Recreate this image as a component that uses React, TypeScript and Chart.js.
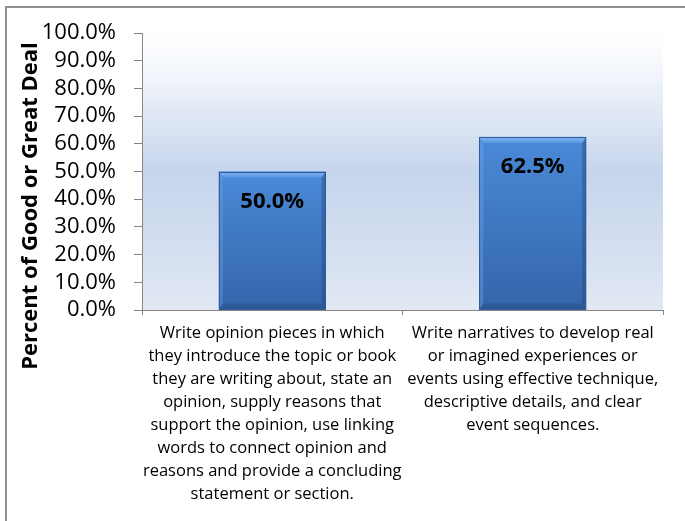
import React, { useEffect, useRef } from "react";
import { Chart, registerables } from "chart.js";

Chart.register(...registerables);

const categories: string[][] = [
  [
    "Write opinion pieces in which",
    "they introduce the topic or book",
    "they are writing about, state an",
    "opinion, supply reasons that",
    "support the opinion, use linking",
    "words to connect opinion and",
    "reasons and provide a concluding",
    "statement or section.",
  ],
  [
    "Write narratives to develop real",
    "or imagined experiences or",
    "events using effective technique,",
    "descriptive details, and clear",
    "event sequences.",
  ],
];
const values: number[] = [50.0, 62.5];
const yMin = 0;
const yMax = 100;
const yStep = 10;
const yTitle = "Percent of Good or Great Deal";

const FONT = "'Open Sans', 'DejaVu Sans', sans-serif";

const decorPlugin = {
  id: "decor",
  beforeDraw(chart: any) {
    const { ctx, chartArea } = chart;
    ctx.save();
    ctx.fillStyle = "#ffffff";
    ctx.fillRect(0, 0, chart.width, chart.height);
    // outer frame
    ctx.strokeStyle = "#8f8f8f";
    ctx.lineWidth = 2;
    ctx.beginPath();
    ctx.moveTo(6, chart.height);
    ctx.lineTo(6, 7);
    ctx.lineTo(chart.width, 7);
    ctx.stroke();
    // plot area gradient
    const g = ctx.createLinearGradient(0, chartArea.top, 0, chartArea.bottom);
    g.addColorStop(0, "#ffffff");
    g.addColorStop(0.15, "#f2f5fb");
    g.addColorStop(0.5, "#c6d5ec");
    g.addColorStop(0.8, "#d5dff0");
    g.addColorStop(1, "#e2e9f5");
    ctx.fillStyle = g;
    ctx.fillRect(chartArea.left, chartArea.top, chartArea.right - chartArea.left, chartArea.bottom - chartArea.top);
    // y title
    ctx.fillStyle = "#000000";
    ctx.font = `bold 22px ${FONT}`;
    ctx.textAlign = "center";
    ctx.textBaseline = "middle";
    ctx.translate(31, 206);
    ctx.rotate(-Math.PI / 2);
    ctx.fillText(yTitle, 0, 0);
    ctx.restore();
  },
  afterDatasetsDraw(chart: any) {
    const { ctx } = chart;
    const meta = chart.getDatasetMeta(0);
    ctx.save();
    meta.data.forEach((bar: any, i: number) => {
      const w = bar.width;
      const l = bar.x - w / 2;
      const r = bar.x + w / 2;
      const t = bar.y;
      const b = bar.base;
      // body
      const g = ctx.createLinearGradient(0, t, 0, b);
      g.addColorStop(0, "#4a8ad8");
      g.addColorStop(1, "#3465aa");
      ctx.fillStyle = g;
      ctx.fillRect(l, t, w, b - t);
      const bv = 6;
      const sv = 4;
      // top bevel
      const gt = ctx.createLinearGradient(0, t, 0, t + bv);
      gt.addColorStop(0, "#82b6f2");
      gt.addColorStop(1, "#5b97e0");
      ctx.fillStyle = gt;
      ctx.beginPath();
      ctx.moveTo(l, t);
      ctx.lineTo(r, t);
      ctx.lineTo(r - sv, t + bv);
      ctx.lineTo(l + sv, t + bv);
      ctx.closePath();
      ctx.fill();
      // left bevel
      ctx.fillStyle = "rgba(120,170,235,0.35)";
      ctx.beginPath();
      ctx.moveTo(l, t);
      ctx.lineTo(l + sv, t + bv);
      ctx.lineTo(l + sv, b - bv);
      ctx.lineTo(l, b);
      ctx.closePath();
      ctx.fill();
      // right bevel
      ctx.fillStyle = "rgba(25,60,110,0.35)";
      ctx.beginPath();
      ctx.moveTo(r, t);
      ctx.lineTo(r - sv, t + bv);
      ctx.lineTo(r - sv, b - bv);
      ctx.lineTo(r, b);
      ctx.closePath();
      ctx.fill();
      // bottom bevel
      ctx.fillStyle = "rgba(25,55,100,0.25)";
      ctx.beginPath();
      ctx.moveTo(l, b);
      ctx.lineTo(l + sv, b - bv);
      ctx.lineTo(r - sv, b - bv);
      ctx.lineTo(r, b);
      ctx.closePath();
      ctx.fill();
      // outline
      ctx.strokeStyle = "#2f5c98";
      ctx.lineWidth = 1;
      ctx.strokeRect(Math.round(l) + 0.5, Math.round(t) + 0.5, Math.round(w) - 1, Math.round(b - t) - 1);
      // label
      ctx.fillStyle = "#000000";
      ctx.font = `bold 22px ${FONT}`;
      ctx.textAlign = "center";
      ctx.textBaseline = "middle";
      ctx.fillText(values[i].toFixed(1) + "%", bar.x, t + 30);
    });
    ctx.restore();
  },
};

export default function App() {
  const ref = useRef<HTMLCanvasElement | null>(null);
  useEffect(() => {
    if (!ref.current) return;
    const chart = new Chart(ref.current, {
      type: "bar",
      data: {
        labels: categories,
        datasets: [
          {
            data: values,
            backgroundColor: "#3b74c0",
            borderWidth: 0,
            barPercentage: 0.82,
            categoryPercentage: 0.5,
          },
        ],
      },
      options: {
        animation: false,
        responsive: false,
        events: [],
        layout: { padding: { left: 42, right: 22, top: 33, bottom: 0 } },
        plugins: { legend: { display: false }, tooltip: { enabled: false }, title: { display: false } },
        scales: {
          x: {
            offset: true,
            grid: { display: true, drawOnChartArea: false, drawTicks: true, tickLength: 5, color: "#868686" },
            border: { display: true, color: "#868686", width: 1 },
            ticks: {
              autoSkip: false,
              maxRotation: 0,
              minRotation: 0,
              padding: 7,
              color: "#000000",
              font: { family: FONT, size: 16.5, lineHeight: 1.39 },
            },
            afterFit: (s: any) => {
              s.height = 211;
            },
          },
          y: {
            min: yMin,
            max: yMax,
            grid: { display: true, drawOnChartArea: false, drawTicks: true, tickLength: 8, color: "#868686" },
            border: { display: true, color: "#868686", width: 1 },
            ticks: {
              stepSize: yStep,
              autoSkip: false,
              padding: 18,
              color: "#000000",
              font: { family: FONT, size: 22, lineHeight: 1.0 },
              callback: (v: any) => Number(v).toFixed(1) + "%",
            },
            afterFit: (s: any) => {
              s.width = 100;
            },
          },
        },
      },
      plugins: [decorPlugin],
    });
    return () => chart.destroy();
  }, []);
  return (
    <div style={{ position: "fixed", left: 0, top: 0, width: 685, height: 521, background: "#fff" }}>
      <canvas ref={ref} width={685} height={521} style={{ display: "block" }} />
    </div>
  );
}
